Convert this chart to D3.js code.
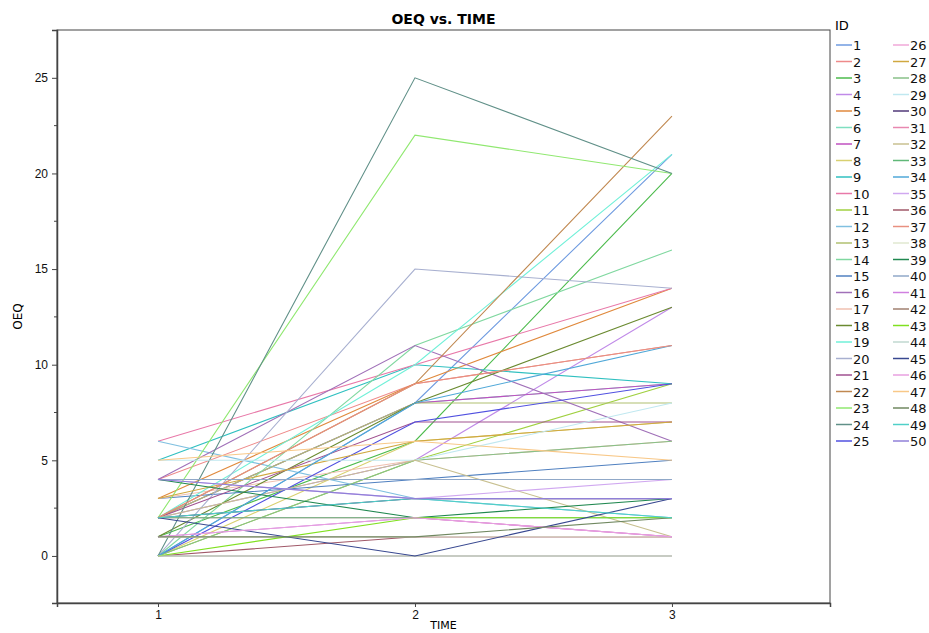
<!DOCTYPE html>
<html>
<head>
<meta charset="utf-8">
<script src="https://cdn.jsdelivr.net/npm/d3@7"></script>
<style>
  body { margin: 0; background: #fff; }
  svg { font-family: "DejaVu Sans", sans-serif; }
</style>
</head>
<body>
<div id="chart"></div>
<script>
// Data: OEQ per subject at TIME 1, 2, 3
const times = [1, 2, 3];
const ids = d3.range(1, 51);
const oeq = [
  [0, 8, 21], [4, 9, 11], [1, 6, 20], [2, 5, 13], [3, 9, 14],
  [2, 8, 9], [2, 8, 9], [0, 6, 7], [5, 10, 9], [6, 10, 14],
  [0, 5, 9], [6, 3, 2], [2, 8, 8], [0, 11, 16], [3, 4, 5],
  [4, 11, 6], [3, 5, 6], [1, 8, 13], [2, 10, 21], [0, 15, 14],
  [2, 7, 7], [2, 9, 23], [2, 22, 20], [0, 25, 20], [0, 7, 9],
  [1, 1, 1], [3, 6, 7], [0, 5, 6], [5, 5, 8], [2, 3, 3],
  [2, 2, 1], [2, 5, 1], [2, 2, 2], [0, 8, 11], [4, 3, 4],
  [0, 1, 1], [2, 9, 11], [1, 1, 1], [4, 2, 3], [4, 4, 4],
  [1, 2, 1], [0, 0, 0], [0, 2, 2], [0, 0, 0], [2, 0, 3],
  [1, 2, 1], [5, 6, 5], [1, 1, 2], [2, 3, 2], [4, 3, 3]
];
const colors = [
  '#6f9be0', '#ee8a8a', '#4cbb4c', '#c08ae8', '#e0893c',
  '#7fdfc0', '#c050c0', '#d8d070', '#30c0c0', '#e878a8',
  '#a0d040', '#80c0e0', '#b0c070', '#80d8a0', '#5080c0',
  '#a070b8', '#f0c0b0', '#6a8a30', '#70f0d8', '#a8b0d0',
  '#a05090', '#c08850', '#90e870', '#609088', '#5050e0',
  '#f0a8d8', '#d0a840', '#88c088', '#c0e8f0', '#503878',
  '#e888b0', '#c8c090', '#60b878', '#50a8d8', '#d0a8f0',
  '#a05868', '#e89080', '#e0e8d0', '#208850', '#90a8c8',
  '#d080e0', '#a08070', '#80e020', '#c0d8d0', '#384890',
  '#e8a0e0', '#f8c888', '#708860', '#50d0c8', '#9080d8'
];
const yTicks = [0, 5, 10, 15, 20, 25];
const yMinor = [2.5, 7.5, 12.5, 17.5, 22.5];

const W = 929, H = 633;
const margin = { left: 57, right: 99, top: 30, bottom: 30 };

const svg = d3.select('#chart').append('svg')
  .attr('width', W).attr('height', H);

const x = d3.scaleLinear().domain([0.607, 3.615]).range([margin.left, W - margin.right]);
const y = d3.scaleLinear().domain([-2.46, 27.5]).range([H - margin.bottom, margin.top]);

// Frame
svg.append('rect')
  .attr('x', margin.left).attr('y', margin.top)
  .attr('width', W - margin.right - margin.left)
  .attr('height', H - margin.bottom - margin.top)
  .attr('fill', 'none').attr('stroke', '#444').attr('stroke-width', 1);

// Lines, one per ID
const line = d3.line().x((d, i) => x(times[i])).y(d => y(d));
svg.append('g').selectAll('path')
  .data(ids)
  .join('path')
  .attr('d', id => line(oeq[id - 1]))
  .attr('fill', 'none')
  .attr('stroke', id => colors[id - 1])
  .attr('stroke-width', 1.1);

// Y axis
const yAxis = svg.append('g')
  .attr('transform', `translate(${margin.left},0)`)
  .call(d3.axisLeft(y).tickValues(yTicks).tickSize(5).tickPadding(4));
yAxis.select('.domain').attr('stroke', '#444').attr('stroke-width', 1.5);
yAxis.selectAll('text').style('font-size', '12px').attr('fill', '#111');
yAxis.selectAll('line').attr('stroke', '#444');
svg.append('g').selectAll('line').data(yMinor).join('line')
  .attr('x1', margin.left - 3).attr('x2', margin.left)
  .attr('y1', d => y(d)).attr('y2', d => y(d))
  .attr('stroke', '#444');

// X axis
const xAxis = svg.append('g')
  .attr('transform', `translate(0,${H - margin.bottom})`)
  .call(d3.axisBottom(x).tickValues(times).tickFormat(d3.format('d')).tickSize(4).tickPadding(3));
xAxis.select('.domain').attr('stroke', '#444').attr('stroke-width', 1.5);
xAxis.selectAll('text').style('font-size', '12px').attr('fill', '#111');
xAxis.selectAll('line').attr('stroke', '#444');

// Titles
svg.append('text')
  .attr('x', (margin.left + W - margin.right) / 2).attr('y', 24)
  .attr('text-anchor', 'middle')
  .style('font-size', '14px').style('font-weight', 'bold')
  .text('OEQ vs. TIME');
svg.append('text')
  .attr('x', (margin.left + W - margin.right) / 2).attr('y', 629)
  .attr('text-anchor', 'middle')
  .style('font-size', '11px')
  .text('TIME');
svg.append('text')
  .attr('transform', `translate(22,${(margin.top + H - margin.bottom) / 2}) rotate(-90)`)
  .attr('text-anchor', 'middle')
  .style('font-size', '12px')
  .text('OEQ');

// Legend
const legend = svg.append('g');
legend.append('text')
  .attr('x', 835).attr('y', 30)
  .style('font-size', '13px')
  .text('ID');
const item = legend.selectAll('g.item')
  .data(ids)
  .join('g')
  .attr('class', 'item')
  .attr('transform', id => {
    const col = id > 25 ? 1 : 0;
    const row = (id - 1) % 25;
    return `translate(${836 + col * 57},${45 + row * 16.5})`;
  });
item.append('line')
  .attr('x1', 0).attr('x2', 16)
  .attr('stroke', id => colors[id - 1])
  .attr('stroke-width', 1.5);
item.append('text')
  .attr('x', 17).attr('y', 5)
  .style('font-size', '13px')
  .attr('fill', '#111')
  .text(id => id);
</script>
</body>
</html>
